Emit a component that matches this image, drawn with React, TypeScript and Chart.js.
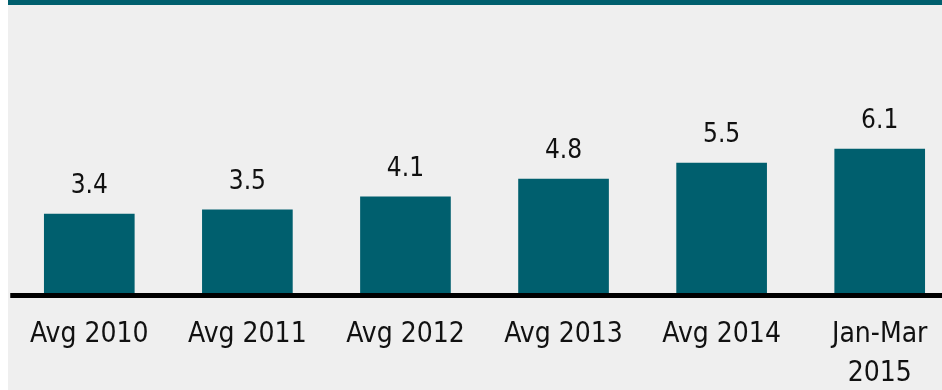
import React, { useEffect, useRef } from "react";
import { Chart, registerables } from "chart.js";

Chart.register(...registerables);

const categories: (string | string[])[] = [
  "Avg 2010",
  "Avg 2011",
  "Avg 2012",
  "Avg 2013",
  "Avg 2014",
  ["Jan-Mar", "2015"],
];
const values: number[] = [3.35, 3.53, 4.08, 4.83, 5.51, 6.1];

const TEAL = "#005f6e";
const FONT = "'DejaVu Sans Condensed', 'DejaVu Sans', sans-serif";

const valueLabelPlugin = {
  id: "valueLabels",
  afterDatasetsDraw(chart: any) {
    const { ctx, chartArea } = chart;
    // baseline
    ctx.save();
    ctx.fillStyle = "#000000";
    ctx.fillRect(chartArea.left, chartArea.bottom, chart.width - chartArea.left, 5);
    ctx.restore();
    const meta = chart.getDatasetMeta(0);
    ctx.save();
    ctx.font = `26px ${FONT}`;
    ctx.fillStyle = "#111111";
    ctx.textAlign = "center";
    ctx.textBaseline = "alphabetic";
    meta.data.forEach((bar: any, i: number) => {
      const v = chart.data.datasets[0].data[i] as number;
      ctx.fillText(v.toFixed(1), bar.x, bar.y - 21);
    });
    ctx.restore();
  },
};

export default function App() {
  const ref = useRef<HTMLCanvasElement | null>(null);
  useEffect(() => {
    if (!ref.current) return;
    const chart = new Chart(ref.current, {
      type: "bar",
      data: {
        labels: categories,
        datasets: [
          {
            data: values,
            backgroundColor: TEAL,
            borderWidth: 0,
            barThickness: 90,
          },
        ],
      },
      options: {
        responsive: false,
        animation: false,
        layout: { padding: { left: 2.25, right: 11.25, top: 10, bottom: 0 } },
        plugins: {
          legend: { display: false },
          tooltip: { enabled: false },
        },
        scales: {
          y: {
            display: false,
            min: 0,
            max: 12,
          },
          x: {
            grid: { display: false, drawTicks: false },
            border: { display: false },
            ticks: {
              color: "#111111",
              padding: 23,
              font: { family: FONT, size: 28, lineHeight: 1.37 },
              maxRotation: 0,
              autoSkip: false,
            },
            afterFit: (s: any) => {
              s.height = 97;
              s.paddingLeft = 0;
              s.paddingRight = 0;
            },
          },
        },
      },
      plugins: [valueLabelPlugin],
    });
    return () => chart.destroy();
  }, []);

  return (
    <div
      style={{
        position: "absolute",
        left: 8,
        top: 0,
        width: 934,
        height: 390,
        overflow: "hidden",
        background: "#efefef",
      }}
    >
      <div style={{ position: "absolute", left: 0, top: 0, width: 934, height: 5, background: TEAL }} />
      <canvas ref={ref} width={962} height={390} style={{ position: "absolute", left: 0, top: 0 }} />
    </div>
  );
}
